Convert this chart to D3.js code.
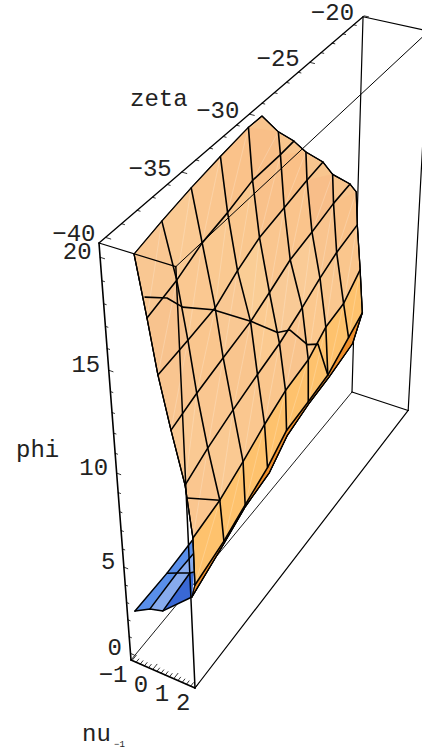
<!DOCTYPE html>
<html><head><meta charset="utf-8"><style>html,body{margin:0;padding:0;background:#fff;overflow:hidden}svg{display:block}</style>
<script src="https://cdn.jsdelivr.net/npm/d3@7"></script></head><body><svg id="c" width="422" height="755"></svg>
<script>
// ---- data ----
const zetaCols=[-40.4,-38.2,-35.8,-33.4,-31.0,-28.6,-26.2,-24.0,-21.5];
const n=null;
const nuGrid=[
[0.36,0.09,-0.17,-0.36,-0.53,-0.55,n,n,n],
[0.73,0.59,0.21,-0.11,-0.38,-0.46,-0.57,n,n],
[1.05,0.95,0.68,0.27,-0.10,-0.29,-0.51,-0.42,n],
[1.48,1.24,0.97,0.81,0.33,-0.01,-0.25,-0.35,-0.47],
[1.97,1.63,1.35,1.09,0.78,0.56,0.16,-0.15,-0.37],
[2.21,2.09,1.75,1.39,1.06,0.87,0.48,0.25,-0.16],
[2.21,2.22,1.81,1.51,1.11,0.89,0.62,0.54,0.02],
[2.05,2.17,1.81,1.60,1.14,0.91,0.68,0.75,0.02]];
const phiGrid=[
[20.59,20.60,20.60,20.63,20.64,19.23,n,n,n],
[18.00,18.22,18.31,18.20,18.28,18.19,17.04,n,n],
[15.58,15.64,15.49,15.62,15.66,15.69,15.67,14.81,n],
[13.18,13.25,13.20,13.33,13.09,13.17,13.11,13.33,12.53],
[10.71,10.71,10.75,10.76,10.63,10.87,10.81,10.77,10.76],
[8.13,8.23,8.22,8.25,8.22,8.17,8.24,8.07,8.30],
[5.62,6.10,5.91,5.94,6.03,5.82,5.56,6.22,5.86],
[4.89,5.85,5.80,5.70,5.75,5.70,5.46,5.95,5.86]];
// ends of the mesh on the jagged top-right rim: nu, zeta, phi
const rimNu=[-0.47,-0.49,-0.35,-0.19];
const rimZeta=[-30.05,-27.41,-25.07,-22.74];
const rimPhi=[20.69,18.21,16.02,13.70];
// crease across the sheet
const creaseNu=[0.70,0.63,0.79,0.59,0.85,0.69,0.76,0.82,0.72,0.62];
const creaseZeta=[-40.4,-38.94,-38.2,-35.8,-33.4,-31.0,-30.05,-28.6,-27.41,-26.2];
const creasePhi=[18.89,17.91,17.09,15.37,13.35,11.17,10.70,8.98,8.18,5.56];
const crease2Nu=[2.03,2.09], crease2Zeta=[-40.4,-38.2], crease2Phi=[10.09,8.23];
// low sheet
const lowNu=[[-0.67,0.06,0.67,0.74],[-0.95,-0.46,0.17,-0.15],[-1.17,-0.89]];
const lowZeta=[[-40.4,-40.4,-40.4,-38.37],[-37.56,-37.56,-37.56,-36.75],[-35.03,-35.53]];
const lowPhi=[[2.70,3.20,3.40,2.38],[2.21,2.46,2.77,1.95],[2.00,1.66]];
// axes
const nuDomain=[-1.05,2], zetaDomain=[-40.4,-20.1], phiDomain=[-0.4,20.6];
const nuMajor=[-1,0,1,2], zetaMajor=[-40,-35,-30,-25,-20], phiMajor=[0,5,10,15,20];
const nuMinor=d3.range(-1,2.001,0.2), zetaMinor=d3.range(-40,-19.5,1), phiMinor=d3.range(0,20.5,1);

// ---- projection of the box ----
const sNu=d3.scaleLinear().domain(nuDomain).range([0,1]);
const sZeta=d3.scaleLinear().domain(zetaDomain).range([0,1]);
const sPhi=d3.scaleLinear().domain(phiDomain).range([0,1]);
const O=[131,660],U=[195,688],V=[352,392],W=[99,243],wu=.98,wv=1.215,ww=.828;
const cu=[wu*U[0]-O[0],wu*U[1]-O[1],wu-1],cv=[wv*V[0]-O[0],wv*V[1]-O[1],wv-1],cw=[ww*W[0]-O[0],ww*W[1]-O[1],ww-1];
function boxP(u,v,w){const d=1+cu[2]*u+cv[2]*v+cw[2]*w;
 return {x:(O[0]+cu[0]*u+cv[0]*v+cw[0]*w)/d,y:(O[1]+cu[1]*u+cv[1]*v+cw[1]*w)/d,d};}
const P=(nu,z,ph)=>boxP(sNu(nu),sZeta(z),sPhi(ph));
const cam=p=>[(p.x-211)*p.d/1620,-(p.y-377)*p.d/1620,-p.d];

// ---- lighting (red, green, blue lights) ----
function rawNormal(a,b,c,d){const A=cam(a),B=cam(b),C=cam(c),D=cam(d);
 const e=[C[0]-A[0],C[1]-A[1],C[2]-A[2]],f=[B[0]-D[0],B[1]-D[1],B[2]-D[2]];
 let m=[e[1]*f[2]-e[2]*f[1],e[2]*f[0]-e[0]*f[2],e[0]*f[1]-e[1]*f[0]];
 const l=Math.hypot(...m);return m.map(q=>q/l);}
function shade(m){const l=Math.hypot(...m);const q=m.map(t=>t/l);
 const r=(q[0]+q[2])/Math.SQRT2,g=(q[0]+q[1]+q[2])/Math.sqrt(3),b=(q[1]+q[2])/Math.SQRT2;
 const c=t=>Math.round(255*Math.max(0,Math.min(1,t)));
 return `rgb(${c(r)},${c(g)},${c(b)})`;}

const svg=d3.select('#c');
const line=d3.line().x(d=>d.x).y(d=>d.y);
const path=(pts,o)=>svg.append('path').attr('d',line(pts)+(o.close?'Z':'')).attr('fill',o.fill||'none')
 .attr('stroke',o.stroke===undefined?'#000':o.stroke).attr('stroke-width',o.w===undefined?1.2:o.w).attr('stroke-linejoin','round').attr('stroke-linecap','round');
const C=(u,v,w)=>boxP(u,v,w);

// back edges
[[[0,0,0],[0,1,0],.9],[[0,1,0],[0,1,1],1.2],[[0,1,0],[1,1,0],1.2],[[1,0,0],[1,1,0],1.2],[[1,1,0],[1,1,1],1.2],[[0,1,1],[1,1,1],1.2]]
.forEach(([a,b,w])=>path([C(...a),C(...b)],{w}));

// grid points
const G=nuGrid.map((r,i)=>r.map((v,j)=>v===null?null:P(v,zetaCols[j],phiGrid[i][j])));
const rim=rimNu.map((v,i)=>P(v,rimZeta[i],rimPhi[i]));

// low sheet
const L=lowNu.map((r,i)=>r.map((v,j)=>P(v,lowZeta[i][j],lowPhi[i][j])));
const lowFaces=[[L[0][0],L[0][1],L[1][1],L[1][0]],[L[0][1],L[0][2],L[1][2],L[1][1]],[L[0][2],L[0][3],L[1][3],L[1][2]],
 [L[1][0],L[1][1],L[2][1],L[2][0]],[L[1][1],L[1][2],L[1][3],L[2][1]]];
const lowTilt=[[-.32,.475,.81],[-.15,.42,.91],[-.48,.40,.80],[-.32,.475,.81],[-.15,.42,.91]];
lowFaces.forEach((f,i)=>path(f,{close:true,fill:shade(lowTilt[i]),stroke:shade(lowTilt[i]),w:.4}));
[L[0],[L[1][0],L[1][1],L[1][2],L[1][3]],[L[0][0],L[1][0],L[2][0]],[L[0][1],L[1][1],L[2][1]],[L[0][2],L[1][2]]].forEach(p=>path(p,{w:1.5}));

// base of the sheet
const last=nuGrid.length-1;
const outline=[G[0][0],G[0][1],G[0][2],G[0][3],G[0][4],rim[0],G[0][5],rim[1],G[1][6],rim[2],G[2][7],rim[3],G[3][8],G[4][8],G[5][8],G[6][8],
 ...G[last].slice().reverse(),G[6][0],G[5][0],G[4][0],G[3][0],G[2][0],G[1][0]];
path(outline,{close:true,fill:'#f8c58e',stroke:'#000',w:1.2});

// faces
const target=[.55,-.04,.83], targetLow=[.70,-.09,.68];
const faces=[];
for(let i=0;i<G.length-1;i++)for(let j=0;j<zetaCols.length-1;j++){
 const a=G[i][j],b=G[i][j+1],c=G[i+1][j+1],d=G[i+1][j];
 if(a&&b&&c&&d){let m=rawNormal(a,b,c,d);if(m[2]<0)m=m.map(t=>-t);faces.push({i,j,a,b,c,d,m});}
}
const mean=[0,1,2].map(k=>d3.mean(faces.filter(f=>f.i<5),f=>f.m[k]));
faces.forEach(f=>{
 const fold=f.i===G.length-2, low=f.i===G.length-3;
 const mix=low?targetLow:f.m.map((t,k)=>target[k]+.45*(t-mean[k]));
 const col=fold?'#ef8f2b':shade(mix);
 path([f.a,f.b,f.c,f.d],{close:true,fill:col,stroke:col,w:.4});
 if(!fold) path([f.d,f.b],{stroke:'rgba(255,255,255,.3)',w:.7});
});

// mesh lines
G.forEach((r,i)=>{if(i===0)return;
 const pts=r.filter(Boolean);
 if(i>=1&&i<=3){pts.pop();pts.push(rim[i]);}
 path(pts,{w:i===last?1.1:1.6});});
zetaCols.forEach((z,j)=>{path(G.map(r=>r[j]).filter(Boolean).slice(0,-1),{w:j===0||j===8?1.3:1.6});});
path(outline,{close:true,stroke:'#000',w:1.2});
path(creaseNu.map((v,i)=>P(v,creaseZeta[i],creasePhi[i])),{w:1.6});
path(crease2Nu.map((v,i)=>P(v,crease2Zeta[i],crease2Phi[i])),{w:1.6});

// front edges
[[[0,0,1],[0,0,0],1.6],[[0,0,0],[1,0,0],1.7],[[1,0,0],[1,0,1],1.5],[[0,0,1],[1,0,1],1.2],[[0,0,1],[0,1,1],1.3],[[1,0,1],[1,1,1],1.0]]
.forEach(([a,b,w])=>path([C(...a),C(...b)],{w}));

// ticks
function tick(p,q){path([p,q],{w:.8});}
phiMinor.forEach(t=>{const M=phiMajor.includes(t),w=sPhi(t);tick(C(0,0,w),C(M?.06:.035,0,w));});
zetaMinor.forEach(t=>{const M=zetaMajor.includes(t),v=sZeta(t);tick(C(0,v,1),C(M?.07:.04,v,1));});
nuMinor.forEach(t=>{const M=nuMajor.some(q=>Math.abs(q-t)<1e-6),u=sNu(t);tick(C(u,0,0),C(u,M?.016:.01,0));});

// labels
const FONT="'Liberation Mono'";
function txt(x,y,s,anchor,size){return svg.append('text').attr('x',x).attr('y',y).attr('text-anchor',anchor||'start').attr('font-family',FONT).attr('font-size',size||24).attr('fill','#222').text(s);}
const minus=t=>String(t).replace('-','\u2212');
zetaMajor.forEach(t=>{const p=C(0,sZeta(t),1);txt(p.x-10,p.y+4,minus(t),'end');});
phiMajor.forEach(t=>{const p=C(0,0,sPhi(t));txt(p.x-8.5,p.y+2,minus(t),'end');});
nuMajor.forEach(t=>{const p=C(sNu(t),0,0);txt(p.x-4.5,p.y+22,minus(t),'end');});
txt(130,106,'zeta');txt(16,457,'phi');txt(82,741,'nu');txt(114,747,'\u22121','start',9);
</script></body></html>
